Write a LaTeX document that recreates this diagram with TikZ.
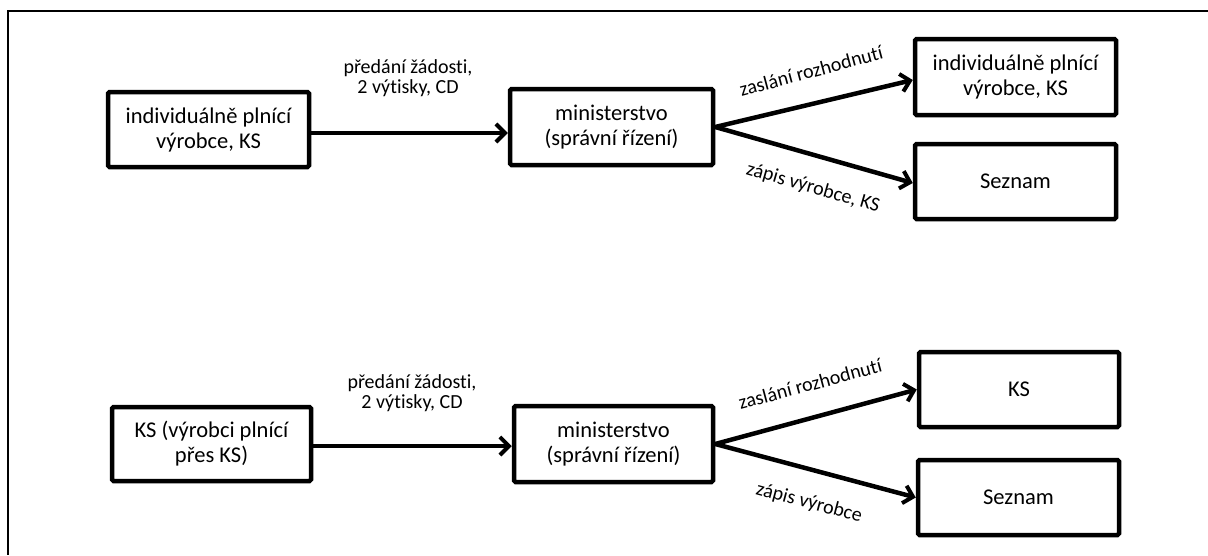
\documentclass[tikz,border=0pt]{standalone}
\usepackage{fontspec}
\setmainfont{Carlito}[Ligatures=NoCommon]
\usetikzlibrary{arrows.meta}
\begin{document}
\begin{tikzpicture}[x=1pt,y=-1pt,
  box/.style={draw=black, line width=4.5pt, rounded corners=1.5pt, align=center,
    font=\fontsize{22.5}{25}\selectfont, inner sep=0pt},
  flow/.style={line width=4.5pt, -{Straight Barb[length=9pt,width=18pt,line width=4pt]}},
  lbl/.style={align=center, font=\fontsize{20}{20.5}\selectfont, inner sep=0pt},
  frame/.style={line width=2pt}]
\useasboundingbox (0,0) rectangle (1208,555);
\coordinate (fa) at (8,11);
\coordinate (fb) at (1208,11);
\coordinate (fc) at (8,555);
\draw[frame] (fb) -- (fa) -- (fc);
% top row
\node[box, minimum width=201pt, minimum height=75pt] (b1) at (208.5,129.5) {individuálně plnící\\výrobce, KS};
\node[box, minimum width=203pt, minimum height=76pt] (b2) at (611.5,127) {ministerstvo\\(správní řízení)};
\node[box, minimum width=201pt, minimum height=76pt] (b3) at (1015.5,77) {individuálně plnící\\výrobce, KS};
\node[box, minimum width=201pt, minimum height=75pt] (b4) at (1015.5,181.5) {Seznam};
% bottom row
\node[box, minimum width=199pt, minimum height=74pt] (b5) at (211.5,444) {KS (výrobci plnící\\přes KS)};
\node[box, minimum width=199pt, minimum height=76pt] (b6) at (613.5,444) {ministerstvo\\(správní řízení)};
\node[box, minimum width=200pt, minimum height=75pt] (b7) at (1019,389.5) {KS};
\node[box, minimum width=201pt, minimum height=75pt] (b8) at (1018.5,497.5) {Seznam};
% arrows top
\draw[flow] ([yshift=-3.5pt]b1.east) -- ([yshift=-6pt]b2.west);
\draw[flow] (b2.east) -- ([yshift=-3pt]b3.west);
\draw[flow] (b2.east) -- ([yshift=-1.5pt]b4.west);
% arrows bottom
\draw[flow] ([yshift=-2pt]b5.east) -- ([yshift=-2pt]b6.west);
\draw[flow] (b6.east) -- (b7.west);
\draw[flow] (b6.east) -- (b8.west);
% labels
\node[lbl] (l1) at (408,78) {předání žádosti,\\2 výtisky, CD};
\node[lbl, rotate=15] (l2) at (811,71) {zaslání rozhodnutí};
\node[lbl, rotate=-16] (l3) at (813,188) {zápis výrobce, KS};
\node[lbl] (l4) at (412,393) {předání žádosti,\\2 výtisky, CD};
\node[lbl, rotate=15] (l5) at (810,384) {zaslání rozhodnutí};
\node[lbl, rotate=-15] (l6) at (809,503) {zápis výrobce};
\end{tikzpicture}
\end{document}
